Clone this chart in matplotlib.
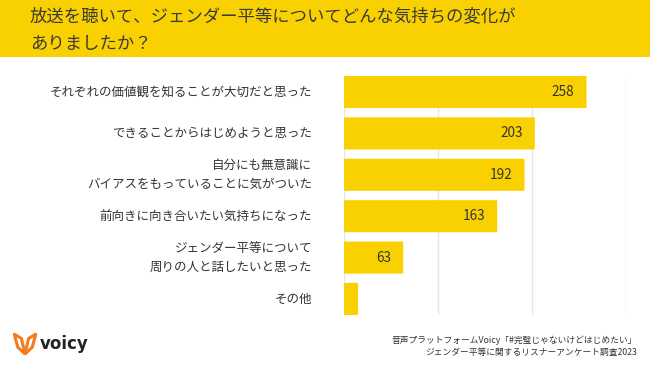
import numpy as np
import matplotlib.pyplot as plt
from matplotlib.patches import FancyBboxPatch, Rectangle

plt.rcParams['font.family'] = ['Noto Sans CJK JP', 'DejaVu Sans']

# data
labels = ['それぞれの価値観を知ることが大切だと思った',
          'できることからはじめようと思った',
          '自分にも無意識に\nバイアスをもっていることに気がついた',
          '前向きに向き合いたい気持ちになった',
          'ジェンダー平等について\n周りの人と話したいと思った',
          'その他']
values = [258, 203, 192, 163, 63, 15]
value_labels = ['258', '203', '192', '163', '63', '']
grid_ticks = [0, 100, 200, 300]

title = '放送を聴いて、ジェンダー平等についてどんな気持ちの変化が\nありましたか？'
source = '音声プラットフォームVoicy「#完璧じゃないけどはじめたい」\nジェンダー平等に関するリスナーアンケート調査2023'

YELLOW = '#F9D100'
TEXT = '#333333'
W, H = 650, 366

fig = plt.figure(figsize=(6.5, 3.66), dpi=100)
fig.patch.set_facecolor('white')

# title band
fig.patches.append(Rectangle((0, 1 - 57 / H), 1, 57 / H, transform=fig.transFigure,
                             facecolor=YELLOW, edgecolor='none', zorder=0))
fig.text(30 / W, 1 - 30 / H, title, fontsize=12.5, color='#3a3a3a', va='center',
         ha='left', linespacing=1.75)

# axes: x 0 at px 344, 300 at px 626; bars span px 76..315
bh = 0.775
n = len(values)
ax = fig.add_axes([344 / W, 1 - 315 / H, (626 - 344) / W, (315 - 76) / H])
ax.set_xlim(0, 300)
ax.set_ylim(n - 1 + bh / 2, -bh / 2)
ax.axis('off')

for g in grid_ticks:
    ax.axvline(g, color='#e6e6e6', lw=1, zorder=0)

for i, (v, vl) in enumerate(zip(values, value_labels)):
    bar = FancyBboxPatch((0, i - bh / 2), v, bh,
                         boxstyle='round,pad=0,rounding_size=1.2',
                         mutation_aspect=0.01,
                         facecolor=YELLOW, edgecolor='none', zorder=2)
    ax.add_patch(bar)
    if vl:
        ax.text(v - 13, i, vl, ha='right', va='center', fontsize=9.8, color=TEXT,
                zorder=3)
    ax.text(-34, i, labels[i], ha='right', va='center', fontsize=9, color=TEXT,
            linespacing=1.6, clip_on=False)

# footer: logo
lax = fig.add_axes([13 / W, 1 - 355 / H, 24 / W, 22 / H])
lax.set_xlim(0, 1)
lax.set_ylim(0, 1)
lax.axis('off')
lv = [(0.05, 0.95), (0.2, 0.35), (0.5, 0.05), (0.8, 0.35), (0.95, 0.95)]
lax.plot([p[0] for p in lv], [p[1] for p in lv], color='#F47B20', lw=2.2,
         solid_capstyle='round', solid_joinstyle='round')
lax.plot([0.05, 0.35, 0.5], [0.95, 0.75, 0.05], color='#F47B20', lw=2.2,
         solid_capstyle='round')
lax.plot([0.95, 0.65, 0.5], [0.95, 0.75, 0.05], color='#F47B20', lw=2.2,
         solid_capstyle='round')
fig.text(40 / W, 1 - 344 / H, 'voicy', fontsize=12, fontweight='bold', color='#222222',
         va='center', ha='left', family=['DejaVu Sans'])

fig.text(637 / W, 1 - 346 / H, source, fontsize=6.3, color=TEXT, ha='right', va='center',
         linespacing=1.5)

fig.savefig('out.png', dpi=100)
